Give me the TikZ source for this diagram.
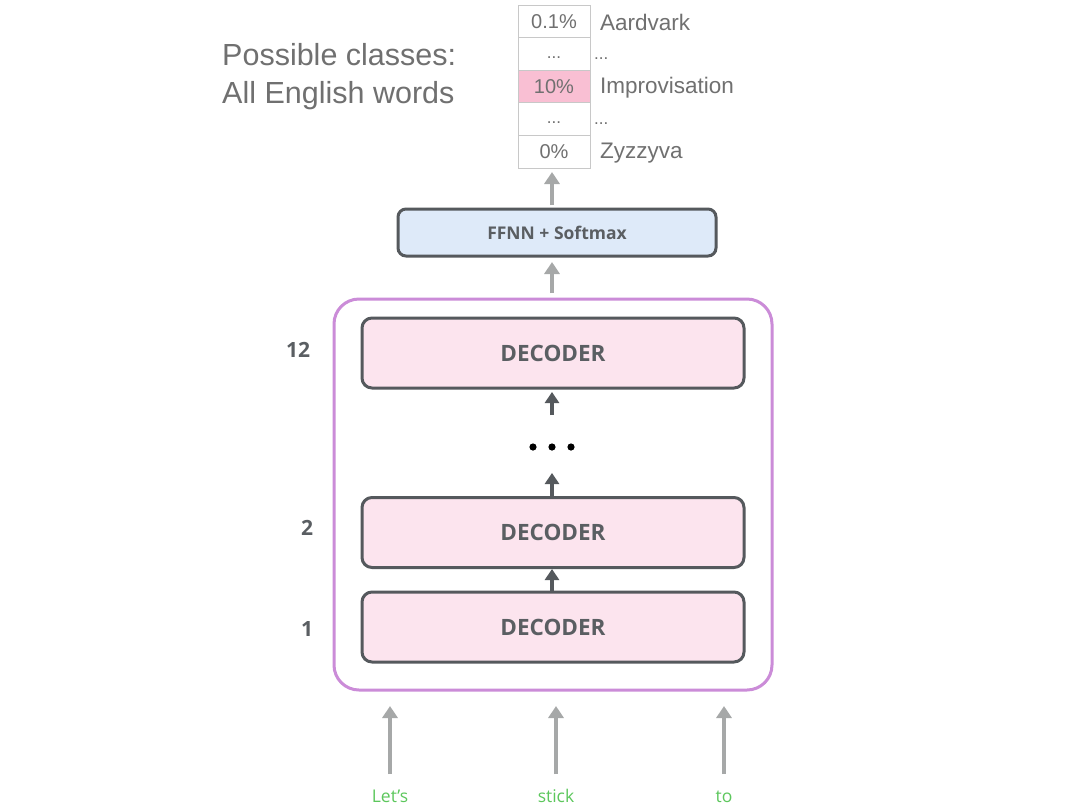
\documentclass[tikz,border=0pt]{standalone}
\usepackage{fontspec}
\setmainfont{Open Sans}
\newfontfamily\helv{Liberation Sans}
\usetikzlibrary{arrows.meta}
\definecolor{dgray}{HTML}{55595D}
\definecolor{lgray}{HTML}{A6A8A8}
\definecolor{txtgray}{HTML}{5A5E62}
\definecolor{lgtxt}{HTML}{707070}
\definecolor{decfill}{HTML}{FCE4EE}
\definecolor{ffill}{HTML}{DEEAF9}
\definecolor{purp}{HTML}{CB8CD8}
\definecolor{pinkcell}{HTML}{F9BFD3}
\definecolor{cellline}{HTML}{C8C8C8}
\definecolor{wgreen}{HTML}{5CC75C}
\tikzset{
  decbox/.style={draw=dgray, line width=3pt, fill=decfill, rounded corners=10pt,
    minimum width=382pt, minimum height=70pt, inner sep=0pt,
    font=\fontsize{22.5}{26}\selectfont\bfseries, text=txtgray},
  ffbox/.style={draw=dgray, line width=3pt, fill=ffill, rounded corners=8pt,
    minimum width=318pt, minimum height=47pt, inner sep=0pt,
    font=\fontsize{17.5}{20}\selectfont\bfseries, text=txtgray},
  cell/.style={draw=cellline, line width=1pt, fill=white, minimum width=72pt,
    minimum height=32.6pt, inner sep=0pt, font=\helv\fontsize{20}{22}\selectfont, text=lgtxt},
  clabel/.style={anchor=west, inner sep=0pt, font=\helv\fontsize{22.5}{24}\selectfont, text=lgtxt},
  darr/.style={draw=dgray, line width=3.5pt, -{Triangle[length=11pt,width=14pt]}},
  garr/.style={draw=lgray, line width=3.5pt, -{Triangle[length=12pt,width=15pt]}},
  num/.style={font=\fontsize{21}{24}\selectfont\bfseries, text=txtgray},
  word/.style={font=\fontsize{17.5}{20}\selectfont, text=wgreen},
  edots/.style={font=\helv\fontsize{17}{17}\selectfont, text=lgtxt},
}
\begin{document}
\begin{tikzpicture}[x=1pt,y=-1pt]
\useasboundingbox[fill=white] (0,0) rectangle (1080,807);
% table
\node[cell] (c1) at (554,21.3) {0.1\%};
\node[cell] (c2) at (554,53.9) {};
\node[edots, inner sep=0pt] (c2d) at (554,58) {...};
\node[cell, fill=pinkcell] (c3) at (554,86.5) {10\%};
\node[cell] (c4) at (554,119.1) {};
\node[edots, inner sep=0pt] (c4d) at (554,123) {...};
\node[cell] (c5) at (554,151.7) {0\%};
\node[clabel] (l1) at (600,22) {Aardvark};
\node[edots, anchor=west, inner sep=0pt] (l2) at (594,59) {...};
\node[clabel] (l3) at (600,88) {Improvisation};
\node[edots, anchor=west, inner sep=0pt] (l4) at (594,124) {...};
\node[clabel] (l5) at (600,153) {Zyzzyva};
\node[anchor=west, inner sep=0pt, align=left, font=\helv\fontsize{30.5}{38}\selectfont, text=lgtxt] (pc) at (222,77) {Possible classes:\\All English words};
% FFNN
\node[ffbox] (ff) at (557,232.5) {FFNN + Softmax};
\coordinate (ffin) at (552,293);
% outer
\node[draw=purp, line width=3pt, rounded corners=25pt, minimum width=438pt, minimum height=391pt, inner sep=0pt] (outer) at (553,494.5) {};
\node[decbox] (d12) at (553,353) {DECODER};
\node[decbox] (d2) at (553,532.5) {DECODER};
\node[decbox] (d1) at (553,627) {DECODER};
\node[num] (n12) at (298,350) {12};
\node[num] (n2) at (307,528) {2};
\node[num] (n1) at (307,629) {1};
% dots
\node[inner sep=0pt] (dots) at (552,447) {};
\foreach \dx in {-19,0,19} \fill[black] (552+\dx,447) circle (3.6pt);
\coordinate (dotsb) at (552,497);
\coordinate (dotst) at (552,415);
% arrows
\draw[garr] (552,205) -- (552,172);
\draw[garr] (ffin) -- (552,262);
\draw[darr] (dotst) -- (552,392);
\draw[darr] (dotsb) -- (552,473);
\draw[darr] (552,592) -- (552,569);
% inputs
\node[word, anchor=base] (w1) at (390,802) {Let’s};
\node[word, anchor=base] (w2) at (556,802) {stick};
\node[word, anchor=base] (w3) at (724,802) {to};
\draw[garr] (390,774) -- (390,706);
\draw[garr] (556,774) -- (556,706);
\draw[garr] (724,774) -- (724,706);
\end{tikzpicture}
\end{document}
